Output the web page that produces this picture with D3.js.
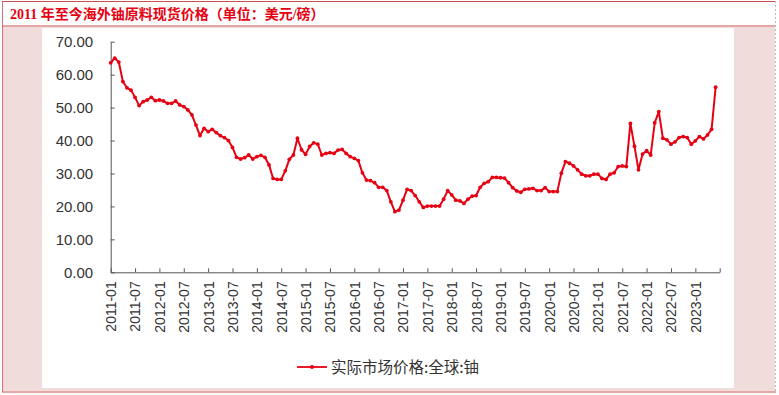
<!DOCTYPE html>
<html>
<head>
<meta charset="utf-8">
<script src="https://cdn.jsdelivr.net/npm/d3@7"></script>
<style>
  html, body { margin: 0; padding: 0; background: #fff; }
  svg { display: block; }
</style>
</head>
<body>
<div id="chart"></div>
<script>
// monthly spot price, 2011-01 .. 2023-06 (USD/lb)
const prices = [
  63.6, 65.0, 63.8, 57.9, 56.0, 55.3, 53.1, 50.6, 51.8, 52.3, 53.1, 52.1,
  52.3, 52.0, 51.3, 51.3, 52.0, 50.8, 50.3, 49.3, 47.8, 44.7, 41.5, 43.7,
  42.7, 43.4, 42.4, 41.5, 40.9, 40.0, 37.9, 34.9, 34.4, 34.8, 35.6, 34.4,
  35.1, 35.5, 34.9, 32.6, 28.5, 28.2, 28.2, 30.8, 34.3, 35.6, 40.7, 37.2,
  35.8, 38.2, 39.3, 38.9, 35.6, 36.1, 36.3, 36.1, 37.1, 37.3, 36.1, 35.1,
  34.6, 33.9, 30.2, 28.0, 27.8, 27.2, 25.8, 25.8, 24.8, 21.4, 18.4, 18.9,
  21.9, 25.2, 24.8, 23.3, 21.4, 19.7, 20.1, 20.1, 20.1, 20.1, 22.2, 24.8,
  23.5, 21.9, 21.7, 20.9, 22.2, 23.1, 23.3, 25.8, 27.0, 27.5, 28.8, 28.8,
  28.7, 28.6, 27.2, 25.7, 24.7, 24.3, 25.2, 25.3, 25.5, 24.8, 24.8, 25.7,
  24.5, 24.5, 24.5, 30.1, 33.6, 33.1, 32.3, 31.1, 29.8, 29.3, 29.3, 29.8,
  29.8, 28.5, 28.2, 29.8, 30.2, 32.1, 32.3, 32.1, 45.2, 38.3, 31.1, 35.9,
  36.9, 35.6, 45.4, 48.8, 40.7, 40.2, 38.9, 39.6, 40.9, 41.2, 40.9, 38.9,
  39.9, 41.2, 40.5, 41.7, 43.4, 56.2
];

// tick labels every 6 months (last tick at 2023-07 has no label)
const xTickLabels = [
  "2011-01", "2011-07", "2012-01", "2012-07", "2013-01", "2013-07",
  "2014-01", "2014-07", "2015-01", "2015-07", "2016-01", "2016-07",
  "2017-01", "2017-07", "2018-01", "2018-07", "2019-01", "2019-07",
  "2020-01", "2020-07", "2021-01", "2021-07", "2022-01", "2022-07",
  "2023-01", ""
];
const yTicks = [0, 10, 20, 30, 40, 50, 60, 70];

const title = "2011 年至今海外铀原料现货价格（单位：美元/磅）";
const seriesName = "实际市场价格:全球:铀";

const W = 779, H = 395;
const red = "#e60012";
const pink = "#f1dcdc";
const border = "#c9504e";

const svg = d3.select("#chart").append("svg")
  .attr("width", W).attr("height", H);

// frame
svg.append("rect").attr("x", 3).attr("y", 27).attr("width", 772).attr("height", 364).attr("fill", pink);
svg.append("rect").attr("x", 42).attr("y", 28).attr("width", 692).attr("height", 360).attr("fill", "#fff");
svg.append("line").attr("x1", 2).attr("x2", 776).attr("y1", 1.5).attr("y2", 1.5).attr("stroke", border);
svg.append("line").attr("x1", 2).attr("x2", 776).attr("y1", 26).attr("y2", 26).attr("stroke", border).attr("stroke-width", 1.2);
svg.append("line").attr("x1", 2).attr("x2", 776).attr("y1", 392).attr("y2", 392).attr("stroke", border).attr("stroke-width", 1.2);
svg.append("line").attr("x1", 2.5).attr("x2", 2.5).attr("y1", 1).attr("y2", 392).attr("stroke", border).attr("stroke-width", 0.8);
svg.append("line").attr("x1", 775.5).attr("x2", 775.5).attr("y1", 1).attr("y2", 392)
  .attr("stroke", "#bbb").attr("stroke-dasharray", "2,2");

// title
svg.append("text")
  .attr("x", 10).attr("y", 19)
  .attr("fill", red)
  .style("font-family", "'Liberation Serif', 'Noto Sans CJK SC', serif")
  .style("font-weight", "bold")
  .style("font-size", "14px")
  .text(title);

const x = d3.scaleLinear().domain([0, 150]).range([110.7, 719.7]);
const y = d3.scaleLinear().domain([0, 70]).range([272.3, 41.7]);

const axisColor = "#555";
const labelFont = "'Liberation Sans', Arial, sans-serif";

// y axis
const gy = svg.append("g").attr("transform", `translate(${x(0)},0)`)
  .call(d3.axisLeft(y).tickValues(yTicks).tickFormat(d3.format(".2f"))
    .tickSizeInner(-4).tickSizeOuter(0).tickPadding(17.5));
gy.select(".domain").attr("stroke", axisColor);
gy.selectAll(".tick line").attr("stroke", axisColor);
gy.selectAll("text").attr("fill", "#333")
  .style("font-family", labelFont).style("font-size", "15px");

// x axis
const gx = svg.append("g").attr("transform", `translate(0,${y(0)})`)
  .call(d3.axisBottom(x).tickValues(d3.range(0, 151, 6))
    .tickFormat((d, i) => xTickLabels[i]).tickSizeInner(-4).tickSizeOuter(0));
gx.select(".domain").attr("stroke", axisColor);
gx.selectAll(".tick line").attr("stroke", axisColor);
gx.selectAll("text")
  .attr("fill", "#333")
  .attr("text-anchor", "end")
  .attr("transform", "rotate(-90)")
  .attr("x", -9).attr("y", 0).attr("dy", "0.35em")
  .style("font-family", labelFont).style("font-size", "14px");

// series
const line = d3.line().x((d, i) => x(i)).y(d => y(d));
svg.append("path").datum(prices)
  .attr("fill", "none").attr("stroke", red)
  .attr("stroke-width", 2).attr("stroke-linejoin", "round")
  .attr("d", line);
svg.append("g").selectAll("circle").data(prices).enter().append("circle")
  .attr("cx", (d, i) => x(i)).attr("cy", d => y(d))
  .attr("r", 1.9).attr("fill", red);

// legend
const lg = svg.append("g").attr("transform", "translate(297,367)");
lg.append("line").attr("x1", 0).attr("x2", 30).attr("y1", 0).attr("y2", 0)
  .attr("stroke", red).attr("stroke-width", 1.8);
lg.append("circle").attr("cx", 15).attr("cy", 0).attr("r", 2).attr("fill", red);
lg.append("text").attr("x", 34).attr("y", 0).attr("dy", "0.36em")
  .attr("fill", "#333")
  .style("font-family", "'Noto Sans CJK SC', sans-serif")
  .style("font-size", "15.5px")
  .text(seriesName);
</script>
</body>
</html>
